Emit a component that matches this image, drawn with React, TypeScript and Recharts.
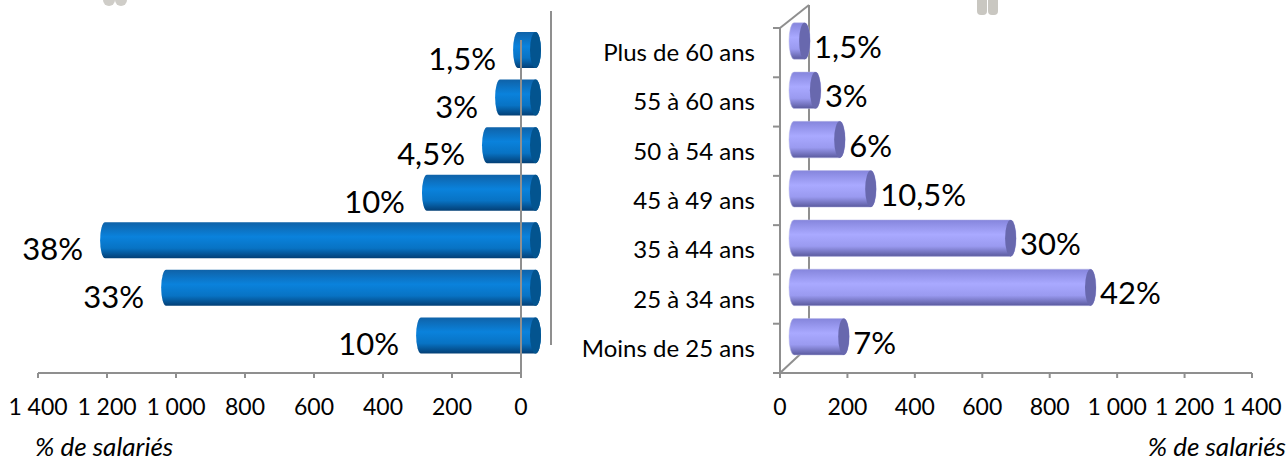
import React from "react";
import { BarChart, Bar, XAxis, YAxis, LabelList } from "recharts";

const categories = ["Plus de 60 ans", "55 à 60 ans", "50 à 54 ans", "45 à 49 ans", "35 à 44 ans", "25 à 34 ans", "Moins de 25 ans"];
const leftValues = [52, 104, 142, 316, 1249, 1072, 333];
const leftLabels = ["1,5%", "3%", "4,5%", "10%", "38%", "33%", "10%"];
const rightValues = [30, 62, 134, 226, 641, 878, 146];
const rightLabels = ["1,5%", "3%", "6%", "10,5%", "30%", "42%", "7%"];
const xTicks = [0, 200, 400, 600, 800, 1000, 1200, 1400];
const axisTitle = "% de salariés";

const leftData = categories.map((c, i) => ({ c, v: leftValues[i], label: leftLabels[i] }));
const rightData = categories.map((c, i) => ({ c, v: rightValues[i], label: rightLabels[i] }));

const FONT = "Lato, Carlito, 'Open Sans', sans-serif";
const GREY = "#8f8f8f";
const fmt = (n: number) => String(n).replace(/\B(?=(\d{3})+$)/g, "\u00a0");

// plot frames (page pixels)
const AXIS_Y = 373;
const L = { x0: 38, x1: 521, top: 40 };
const R = { offset: 560, x0: 780, x1: 1252, top: 28 };

function leftShape(p: any) {
  const zero = L.x1;
  const end = Math.min(p.x, p.x + p.width);
  const left = end + 10;
  const right = zero + 20;
  const h = 36;
  const top = p.y + p.height / 2 - 14 - h / 2;
  const rl = 5, rc = 5.5;
  return (
    <g>
      <path d={`M${left + rl},${top} L${right - rc},${top} A${rc},${h / 2} 0 0 1 ${right - rc},${top + h} L${left + rl},${top + h} A${rl},${h / 2} 0 0 1 ${left + rl},${top} Z`} fill="url(#blueBody)" />
      <ellipse cx={right - rc} cy={top + h / 2} rx={rc} ry={h / 2} fill="#03548f" />
    </g>
  );
}

function rightShape(p: any) {
  const x0 = R.x0 - R.offset;
  const end = Math.max(p.x, p.x + p.width);
  const left = x0 + 9;
  const right = end + 20;
  const h = 36.5;
  const top = p.y + p.height / 2 - 12 - h / 2;
  const rl = 5, rc = 5.5;
  return (
    <g>
      <path d={`M${left + rl},${top} L${right - rc},${top} A${rc},${h / 2} 0 0 1 ${right - rc},${top + h} L${left + rl},${top + h} A${rl},${h / 2} 0 0 1 ${left + rl},${top} Z`} fill="url(#violetBody)" stroke="#b9b9e6" strokeWidth={0.5} />
      <ellipse cx={right - rc} cy={top + h / 2} rx={rc} ry={h / 2} fill="#6868ae" />
    </g>
  );
}

function leftLabel(p: any) {
  const end = Math.min(p.x, p.x + p.width);
  return (
    <text x={end - 7} y={p.y + p.height / 2 - 6} textAnchor="end" dominantBaseline="central" fontSize={31} fontFamily={FONT} fill="#000">
      {p.value}
    </text>
  );
}

function rightLabel(p: any) {
  const end = Math.max(p.x, p.x + p.width);
  return (
    <text x={end + 24} y={p.y + p.height / 2 - 7} textAnchor="start" dominantBaseline="central" fontSize={31} fontFamily={FONT} fill="#000">
      {p.value}
    </text>
  );
}

function Gradient({ id, stops }: { id: string; stops: string[] }) {
  return (
    <linearGradient id={id} x1="0" y1="0" x2="0" y2="1">
      <stop offset="0" stopColor={stops[0]} />
      <stop offset="0.4" stopColor={stops[1]} />
      <stop offset="0.72" stopColor={stops[2]} />
      <stop offset="1" stopColor={stops[3]} />
    </linearGradient>
  );
}

const xTickStyle = { fontSize: 23, fontFamily: FONT, fill: "#000" };
const yTickStyle = { fontSize: 24, fontFamily: FONT, fill: "#000" };

export default function App() {
  const rx = R.x0 - R.offset;
  const bandR = (AXIS_Y - R.top) / 7;
  return (
    <div style={{ position: "absolute", left: 0, top: 0, width: 1286, height: 462, background: "#fff", overflow: "hidden" }}>
      <svg width={1286} height={20} style={{ position: "absolute", left: 0, top: 0 }}>
        <ellipse cx={109} cy={0} rx={6} ry={6} fill="#cfcdc8" />
        <ellipse cx={121} cy={0} rx={6} ry={6} fill="#cfcdc8" />
        <rect x={977} y={-10} width={10} height={25} rx={4} fill="#c9c7c1" />
        <rect x={988} y={-10} width={10} height={25} rx={4} fill="#c9c7c1" />
      </svg>

      <div style={{ position: "absolute", left: 0, top: 0 }}>
        <BarChart width={600} height={462} data={leftData} layout="vertical" margin={{ left: L.x0, right: 600 - L.x1, top: L.top, bottom: 0 }} barSize={36}>
          <defs>
            <Gradient id="blueBody" stops={["#0f62a8", "#0a82dc", "#0873c4", "#033f75"]} />
          </defs>
          <XAxis type="number" reversed domain={[0, 1400]} ticks={xTicks} interval={0} tickFormatter={fmt} height={462 - AXIS_Y}
            stroke={GREY} strokeWidth={2} tickSize={5} tickMargin={21} tick={xTickStyle} />
          <YAxis type="category" dataKey="c" hide />
          <Bar dataKey="v" shape={leftShape} isAnimationActive={false}>
            <LabelList dataKey="label" content={leftLabel} />
          </Bar>
          <g>
            <line x1={L.x1 + 30} x2={L.x1 + 30} y1={11} y2={345} stroke={GREY} strokeWidth={2} />
            <text x={35} y={456} fontSize={26} fontStyle="italic" fontFamily={FONT} fill="#000">{axisTitle}</text>
          </g>
        </BarChart>
      </div>

      <svg width={600} height={462} style={{ position: "absolute", left: 0, top: 0, pointerEvents: "none" }}>
        <line x1={L.x1} x2={L.x1} y1={L.top} y2={AXIS_Y} stroke={GREY} strokeWidth={2} />
      </svg>

      <div style={{ position: "absolute", left: R.offset, top: 0 }}>
        <BarChart width={726} height={462} data={rightData} layout="vertical" margin={{ left: 0, right: 726 - (R.x1 - R.offset), top: R.top, bottom: 0 }} barSize={36}>
          <defs>
            <Gradient id="violetBody" stops={["#8585dc", "#a9a9ff", "#9a9af0", "#5a5a9e"]} />
          </defs>
          <g>
            <line x1={rx} x2={rx + 29} y1={R.top} y2={5} stroke={GREY} strokeWidth={2} />
            <line x1={rx} x2={rx + 29} y1={AXIS_Y} y2={346} stroke={GREY} strokeWidth={2} />
            <line x1={rx + 29} x2={rx + 29} y1={5} y2={346} stroke={GREY} strokeWidth={2} />
            <line x1={rx} x2={rx} y1={R.top} y2={AXIS_Y} stroke={GREY} strokeWidth={2} />
            {[0, 1, 2, 3, 4, 5, 6, 7].map((i) => (
              <line key={i} x1={rx - 7} x2={rx} y1={R.top + i * bandR} y2={R.top + i * bandR} stroke={GREY} strokeWidth={2} />
            ))}
            <text x={1286 - R.offset} y={456} textAnchor="end" fontSize={26} fontStyle="italic" fontFamily={FONT} fill="#000">{axisTitle}</text>
          </g>
          <XAxis type="number" domain={[0, 1400]} ticks={xTicks} interval={0} tickFormatter={fmt} height={462 - AXIS_Y}
            stroke={GREY} strokeWidth={2} tickSize={5} tickMargin={21} tick={xTickStyle} />
          <YAxis type="category" dataKey="c" width={rx} axisLine={false} tickLine={false} tickMargin={19} interval={0} tick={yTickStyle} />
          <Bar dataKey="v" shape={rightShape} isAnimationActive={false}>
            <LabelList dataKey="label" content={rightLabel} />
          </Bar>
        </BarChart>
      </div>
    </div>
  );
}
